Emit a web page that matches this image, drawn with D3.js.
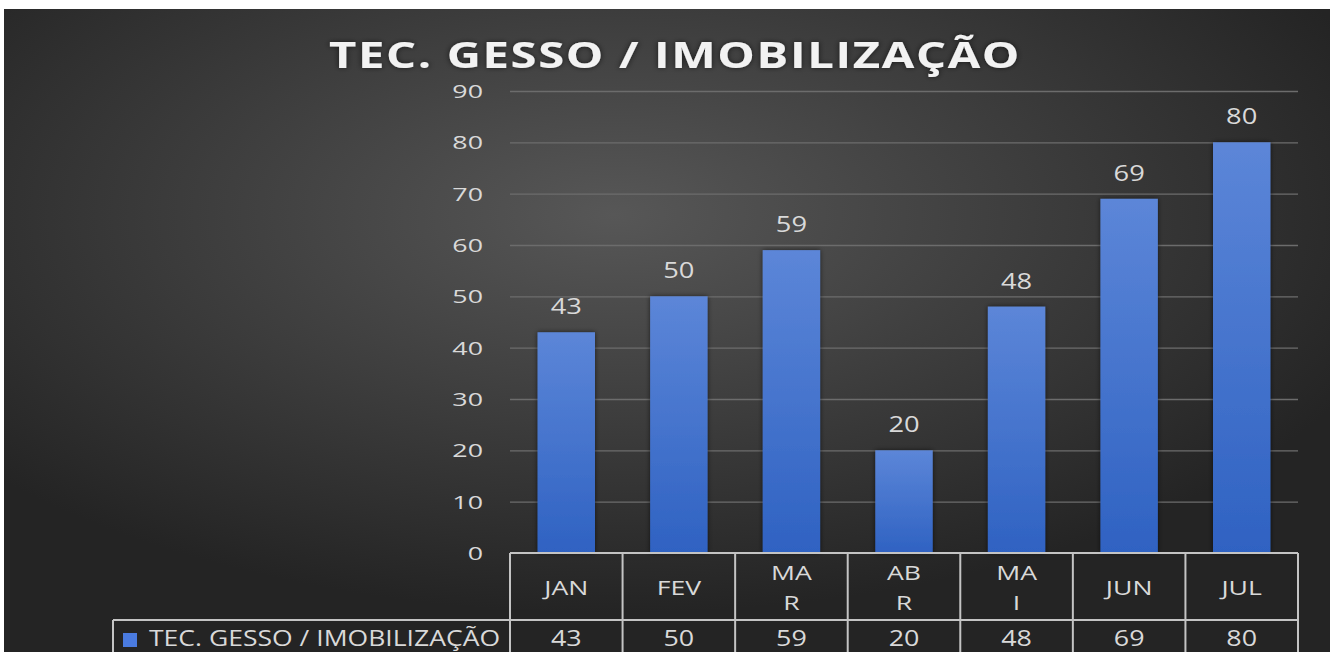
<!DOCTYPE html>
<html>
<head>
<meta charset="utf-8">
<script src="https://cdn.jsdelivr.net/npm/d3@7"></script>
<style>
  body { margin: 0; background: #fff; }
  svg { display: block; }
  text { font-family: "Open Sans", "Noto Sans", sans-serif; }
</style>
</head>
<body>
<svg width="1330" height="652"></svg>
<script>
let months = ["JAN", "FEV", "MAR", "ABR", "MAI", "JUN", "JUL"]
let monthLines = [["JAN"], ["FEV"], ["MA", "R"], ["AB", "R"], ["MA", "I"], ["JUN"], ["JUL"]]
let values = [43, 50, 59, 20, 48, 69, 80]
let yTicks = [0, 10, 20, 30, 40, 50, 60, 70, 80, 90]
let seriesName = "TEC. GESSO / IMOBILIZAÇÃO"
let title = "TEC. GESSO / IMOBILIZAÇÃO"

let svg = d3.select("svg")
let margin = {top: 91, left: 510, right: 32, bottom: 99}
let width = 1330 - margin.left - margin.right
let height = 652 - margin.top - margin.bottom

// the source picture is stretched sideways, so text is widened to match
function wide(sel, x, y, sx){
  return sel.attr("x", 0).attr("y", 0)
    .attr("transform", "translate(" + x + "," + y + ") scale(" + sx + ",1)")
}

let defs = svg.append("defs")
let bg = defs.append("radialGradient").attr("id", "bg")
    .attr("cx", "46%").attr("cy", "32%").attr("r", "62%")
bg.append("stop").attr("offset", "0%").attr("stop-color", "#575757")
bg.append("stop").attr("offset", "100%").attr("stop-color", "#242424")

let barGrad = defs.append("linearGradient").attr("id", "bar")
    .attr("x1", 0).attr("y1", 0).attr("x2", 0).attr("y2", 1)
barGrad.append("stop").attr("offset", "0%").attr("stop-color", "#5c86d8")
barGrad.append("stop").attr("offset", "100%").attr("stop-color", "#2f62c2")

let shadow = defs.append("filter").attr("id", "shadow")
    .attr("x", "-20%").attr("y", "-20%").attr("width", "140%").attr("height", "140%")
shadow.append("feDropShadow").attr("dx", 0).attr("dy", 0).attr("stdDeviation", 2.5)
    .attr("flood-color", "#000").attr("flood-opacity", 0.6)

svg.append("rect").attr("x", 4).attr("y", 9).attr("width", 1326).attr("height", 643)
    .attr("fill", "url(#bg)")

svg.append("text")
    .attr("text-anchor", "middle")
    .attr("fill", "#f2f2f2")
    .attr("font-size", 35)
    .attr("font-weight", "bold")
    .attr("letter-spacing", 1.2)
    .attr("filter", "url(#shadow)")
    .text(title)
    .call(s => wide(s, 675, 68, 1.35))

let x = d3.scaleBand().domain(months).range([0, width]).paddingInner(0.49).paddingOuter(0.245)
let xCell = d3.scaleBand().domain(months).range([0, width])
let y = d3.scaleLinear().domain([0, 90]).range([height, 0])

let g = svg.append("g")
    .attr("transform", "translate(" + margin.left + "," + margin.top + ")")

g.append("g")
    .call(d3.axisLeft(y).tickValues(yTicks).tickSize(-width))
    .call(a => a.select(".domain").remove())
    .call(a => a.selectAll(".tick line").attr("stroke", "#6c6c6c").attr("stroke-width", 1.4)
        .filter(d => d === 0).remove())
    .call(a => a.selectAll(".tick text").attr("fill", "#d9d9d9").attr("font-size", 18.5)
        .attr("font-family", "'Open Sans', sans-serif")
        .attr("x", 0).attr("dy", "0.36em")
        .attr("transform", "translate(-27,0) scale(1.45,1)"))

g.selectAll(".bar")
  .data(values)
  .enter().append("rect")
    .attr("class", "bar")
    .attr("x", (d, i) => x(months[i]))
    .attr("y", d => y(d))
    .attr("width", x.bandwidth())
    .attr("height", d => height - y(d))
    .attr("fill", "url(#bar)")
    .attr("filter", "url(#shadow)")

g.selectAll(".lbl")
  .data(values)
  .enter().append("text")
    .attr("class", "lbl")
    .attr("text-anchor", "middle")
    .attr("fill", "#d9d9d9")
    .attr("font-size", 21)
    .text(d => d)
    .each(function(d, i){
      wide(d3.select(this), x(months[i]) + x.bandwidth() / 2, y(d) - 18, 1.3)
    })

// data table under the axis
let rowTop = height, rowMid = height + 67, rowBot = height + 120
let legendLeft = 113 - margin.left
let lineColor = "#c4c4c4"
let table = g.append("g").attr("stroke", lineColor).attr("stroke-width", 2)
table.append("line").attr("x1", 0).attr("x2", width).attr("y1", rowTop).attr("y2", rowTop)
table.append("line").attr("x1", legendLeft).attr("x2", width).attr("y1", rowMid).attr("y2", rowMid)
table.selectAll(".vl")
  .data(d3.range(months.length + 1))
  .enter().append("line")
    .attr("x1", i => i < months.length ? xCell(months[i]) : width)
    .attr("x2", i => i < months.length ? xCell(months[i]) : width)
    .attr("y1", rowTop).attr("y2", rowBot)
table.append("line").attr("x1", legendLeft).attr("x2", legendLeft).attr("y1", rowMid).attr("y2", rowBot)

monthLines.forEach((lines, i) => {
  let cx = xCell(months[i]) + xCell.bandwidth() / 2
  lines.forEach((l, j) => {
    let by = lines.length === 1 ? rowTop + 42 : rowTop + 27 + j * 30
    g.append("text")
        .attr("text-anchor", "middle")
        .attr("fill", "#d9d9d9")
        .attr("font-size", 20.5)
        .text(l)
        .call(s => wide(s, cx, by, 1.3))
  })
})

g.selectAll(".cell")
  .data(values)
  .enter().append("text")
    .attr("class", "cell")
    .attr("text-anchor", "middle")
    .attr("fill", "#d9d9d9")
    .attr("font-size", 21)
    .text(d => d)
    .each(function(d, i){
      wide(d3.select(this), xCell(months[i]) + xCell.bandwidth() / 2, rowMid + 26, 1.28)
    })

g.append("rect")
    .attr("x", legendLeft + 10).attr("y", rowMid + 13)
    .attr("width", 14).attr("height", 14)
    .attr("fill", "#4a7be0")
g.append("text")
    .attr("fill", "#d9d9d9")
    .attr("font-size", 22.5)
    .text(seriesName)
    .call(s => wide(s, legendLeft + 36, rowMid + 26, 1.18))
</script>
</body>
</html>
